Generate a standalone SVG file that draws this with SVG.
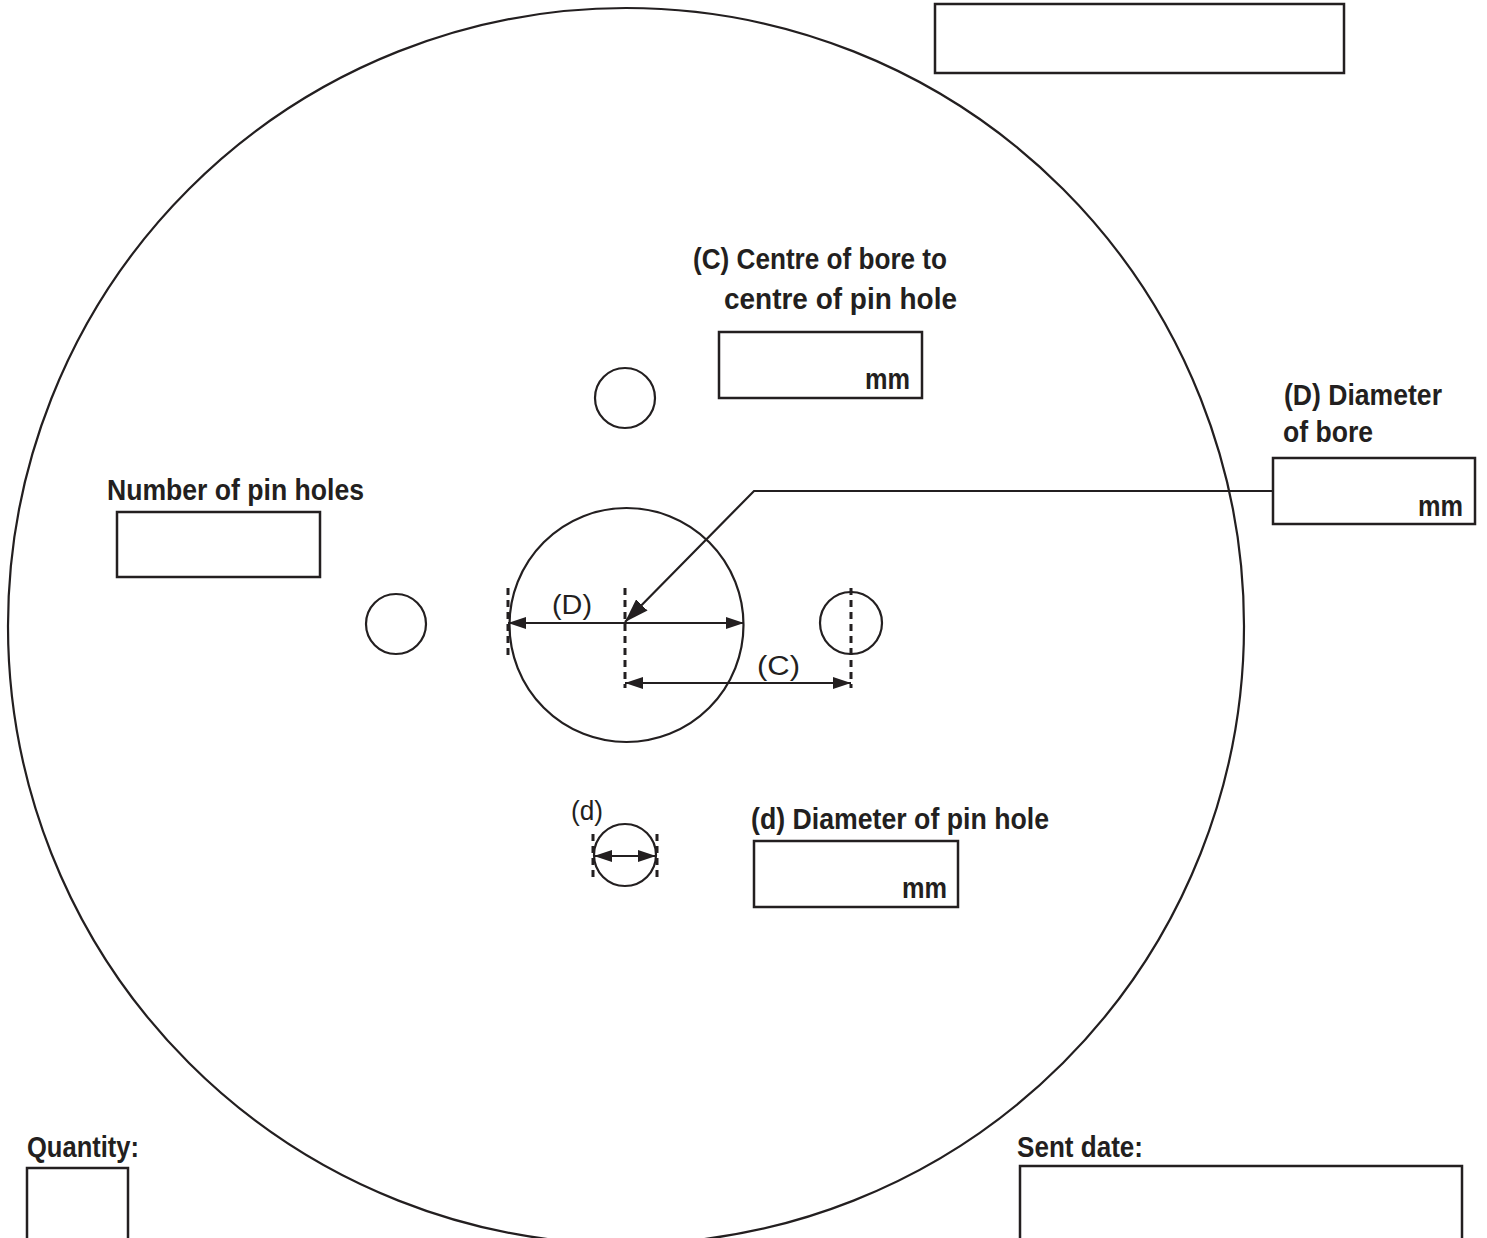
<svg xmlns="http://www.w3.org/2000/svg" width="1487" height="1238" viewBox="0 0 1487 1238">
<style>
.ln{fill:none;stroke:#231f20;stroke-width:2.2}
.bx{fill:none;stroke:#231f20;stroke-width:2.5}
.ds{fill:none;stroke:#231f20;stroke-width:3;stroke-dasharray:7,5}
.b{font-family:"Liberation Sans",Arial,sans-serif;font-weight:bold;font-size:29px;fill:#231f20}
.r{font-family:"Liberation Sans",Arial,sans-serif;font-size:27px;fill:#231f20}
</style>
<defs>
<marker id="ah" viewBox="0 0 18 12" refX="18" refY="6" markerWidth="18" markerHeight="12" markerUnits="userSpaceOnUse" orient="auto-start-reverse">
<path d="M0,0 L18,6 L0,12 Z" fill="#231f20"/>
</marker>
<marker id="ahl" viewBox="0 0 24 16" refX="24" refY="8" markerWidth="24" markerHeight="16" markerUnits="userSpaceOnUse" orient="auto">
<path d="M0,0 L24,8 L0,16 Z" fill="#231f20"/>
</marker>
</defs>
<rect width="1487" height="1238" fill="#fff"/>
<g id="disc">
<circle class="ln" cx="626" cy="626" r="618"/>
</g>
<g id="bore"><circle class="ln" cx="626.5" cy="625" r="117"/></g>
<g id="pin-top"><circle class="ln" cx="625" cy="398" r="30"/></g>
<g id="pin-left"><circle class="ln" cx="396" cy="624" r="30"/></g>
<g id="pin-right"><circle class="ln" cx="851" cy="623" r="31"/></g>
<g id="pin-bottom"><circle class="ln" cx="625" cy="855" r="31"/></g>
<g id="box-top"><rect class="bx" x="935" y="4" width="409" height="69"/></g>
<g id="box-C">
<text class="b" x="693" y="269" textLength="254" lengthAdjust="spacingAndGlyphs">(C) Centre of bore to</text>
<text class="b" x="724" y="309" textLength="233" lengthAdjust="spacingAndGlyphs">centre of pin hole</text>
<rect class="bx" x="719" y="332" width="203" height="66"/>
<text class="b" x="910" y="389" text-anchor="end" textLength="45" lengthAdjust="spacingAndGlyphs">mm</text>
</g>
<g id="box-D">
<text class="b" x="1284" y="405" textLength="158" lengthAdjust="spacingAndGlyphs">(D) Diameter</text>
<text class="b" x="1283" y="442" textLength="90" lengthAdjust="spacingAndGlyphs">of bore</text>
<rect class="bx" x="1273" y="458" width="202" height="66"/>
<text class="b" x="1463" y="516" text-anchor="end" textLength="45" lengthAdjust="spacingAndGlyphs">mm</text>
</g>
<g id="box-pins">
<text class="b" x="107" y="500" textLength="257" lengthAdjust="spacingAndGlyphs">Number of pin holes</text>
<rect class="bx" x="117" y="512" width="203" height="65"/>
</g>
<g id="box-d">
<text class="b" x="751" y="829" textLength="298" lengthAdjust="spacingAndGlyphs">(d) Diameter of pin hole</text>
<rect class="bx" x="754" y="841" width="204" height="66"/>
<text class="b" x="947" y="898" text-anchor="end" textLength="45" lengthAdjust="spacingAndGlyphs">mm</text>
</g>
<g id="box-quantity">
<text class="b" x="27" y="1157" textLength="112" lengthAdjust="spacingAndGlyphs">Quantity:</text>
<rect class="bx" x="27" y="1168" width="101" height="80"/>
</g>
<g id="box-sent">
<text class="b" x="1017" y="1157" textLength="126" lengthAdjust="spacingAndGlyphs">Sent date:</text>
<rect class="bx" x="1020" y="1166" width="442" height="82"/>
</g>
<g id="connectors">
<line class="ds" x1="508" y1="588" x2="508" y2="658"/>
<line class="ds" x1="625" y1="588" x2="625" y2="688"/>
<line class="ds" x1="851" y1="588" x2="851" y2="688"/>
<line class="ds" x1="593" y1="834" x2="593" y2="878"/>
<line class="ds" x1="657" y1="834" x2="657" y2="878"/>
<line class="ln" x1="508" y1="623" x2="744" y2="623" marker-start="url(#ah)" marker-end="url(#ah)"/>
<line class="ln" x1="625" y1="683" x2="851" y2="683" marker-start="url(#ah)" marker-end="url(#ah)"/>
<line class="ln" x1="594" y1="856" x2="656" y2="856" marker-start="url(#ah)" marker-end="url(#ah)"/>
<polyline class="ln" points="1273,491 754,491 625,622" marker-end="url(#ahl)"/>
<text class="r" x="552" y="614" textLength="40" lengthAdjust="spacingAndGlyphs">(D)</text>
<text class="r" x="757" y="675" textLength="43" lengthAdjust="spacingAndGlyphs">(C)</text>
<text class="r" x="571" y="820" textLength="32" lengthAdjust="spacingAndGlyphs">(d)</text>
</g>
</svg>
